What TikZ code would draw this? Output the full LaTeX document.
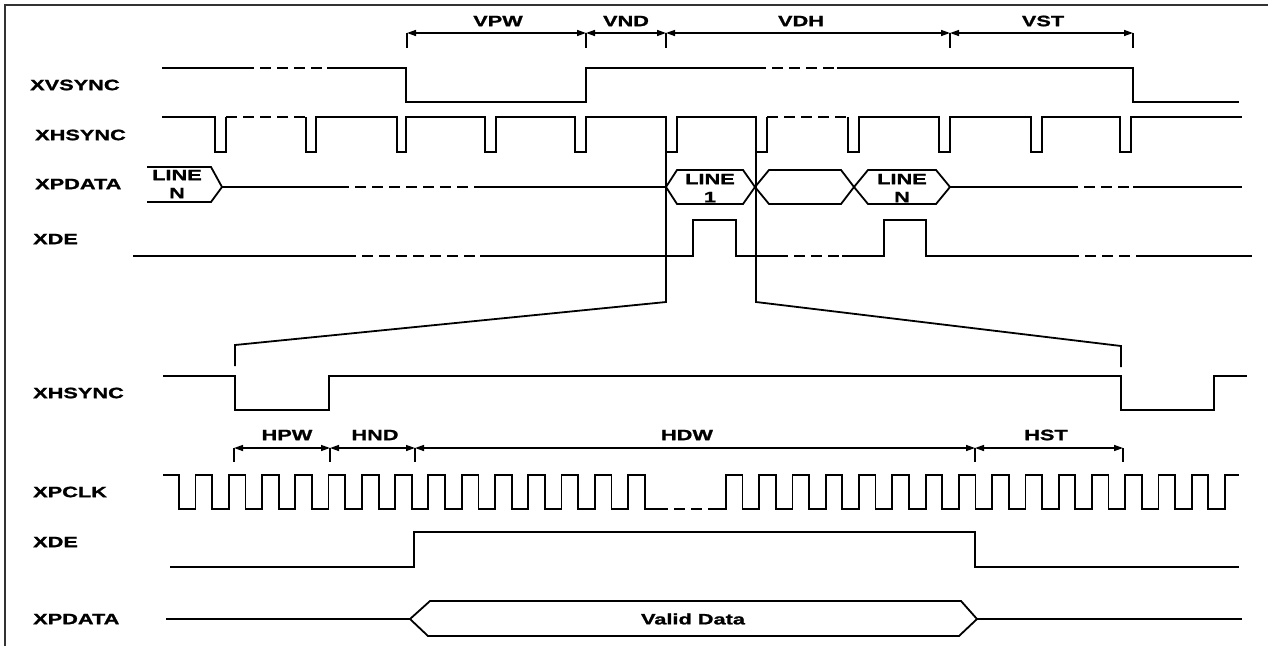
\documentclass[tikz,border=0pt]{standalone}
\usepackage{fontspec}
\setmainfont{Liberation Sans}[FakeStretch=1.45,BoldFeatures={FakeBold=1.3}]
\usetikzlibrary{arrows.meta}
\begin{document}
\begin{tikzpicture}[x=1pt,y=-1pt,
  sig/.style={line width=1.8pt,line join=miter},
  dsig/.style={line width=1.8pt,dash pattern=on 11pt off 6pt},
  dimline/.style={line width=1.4pt,{Triangle[length=9pt,width=6pt]}-{Triangle[length=9pt,width=6pt]}},
  tick/.style={line width=1.4pt},
  lbl/.style={font=\fontsize{15}{18}\selectfont\bfseries,inner sep=0pt},
  sname/.style={lbl,anchor=west}]
\useasboundingbox (0,0) rectangle (1268,646);
\draw[line width=1.6pt,black!80] (5,646) -- (5,5) -- (1268,5);

% signal names
\node[sname] (nvs) at (30,85) {XVSYNC};
\node[sname] (nhs) at (35,135) {XHSYNC};
\node[sname] (npd) at (35,184) {XPDATA};
\node[sname] (nde) at (33,239) {XDE};
\node[sname] (nhs2) at (33,393) {XHSYNC};
\node[sname] (nclk) at (33,492) {XPCLK};
\node[sname] (nde2) at (33,542) {XDE};
\node[sname] (npd2) at (33,619) {XPDATA};

% top dimension arrows
\foreach \n/\x in {a/407,b/586,c/666,d/950,e/1133}{
  \coordinate (t\n) at (\x,33);
  \coordinate (t\n b) at (\x,48);
  \draw[tick] (t\n) -- (t\n b);
}
\draw[dimline] (ta) -- (tb);
\draw[dimline] (tb) -- (tc);
\draw[dimline] (tc) -- (td);
\draw[dimline] (td) -- (te);
\node[lbl] (lvpw) at (498,21) {VPW};
\node[lbl] (lvnd) at (626,21) {VND};
\node[lbl] (lvdh) at (801,21) {VDH};
\node[lbl] (lvst) at (1043,21) {VST};

% XVSYNC
\draw[sig] (162,68) -- (243,68);
\draw[dsig] (243,68) -- (327,68);
\draw[sig] (327,68) -- (406,68) -- (406,102) -- (586,102) -- (586,68) -- (755,68);
\draw[dsig] (755,68) -- (837,68);
\draw[sig] (837,68) -- (1133,68) -- (1133,102) -- (1239,102);

% XHSYNC (top)
\draw[sig] (162,117) -- (215,117) -- (215,152) -- (226,152) -- (226,117);
\draw[dsig] (226,117) -- (306,117);
\draw[sig] (306,117) foreach \f/\r in {306/316,397/406,485/496,575/586,666/677,756/767}
  { -- (\f,117) -- (\f,152) -- (\r,152) -- (\r,117) };
\draw[dsig] (767,117) -- (848,117);
\draw[sig] (848,117) foreach \f/\r in {848/859,939/950,1031/1042,1120/1131}
  { -- (\f,117) -- (\f,152) -- (\r,152) -- (\r,117) } -- (1242,117);

% zoom lines
\draw[sig] (666,152) -- (666,302) -- (235,345) -- (235,366);
\draw[sig] (756,152) -- (756,302) -- (1121,346) -- (1121,367);

% XPDATA (top)
\draw[sig] (147,167) -- (211,167) -- (222,187) -- (211,202) -- (147,202);
\node[lbl,align=center] (dN0) at (177,184) {LINE\\N};
\draw[sig] (222,187) -- (338,187);
\draw[dsig] (338,187) -- (480,187);
\draw[sig] (480,187) -- (666,187);
\draw[sig] (666,187) -- (677,170) -- (743,170) -- (755,187) -- (743,204) -- (677,204) -- cycle;
\node[lbl,align=center] (dL1) at (710,188) {LINE\\1};
\draw[sig] (755,187) -- (769,170) -- (841,170) -- (854,187) -- (841,204) -- (769,204) -- cycle;
\draw[sig] (854,187) -- (868,170) -- (936,170) -- (950,187) -- (936,204) -- (868,204) -- cycle;
\node[lbl,align=center] (dLN) at (902,188) {LINE\\N};
\draw[sig] (950,187) -- (1067,187);
\draw[dsig] (1067,187) -- (1133,187);
\draw[sig] (1133,187) -- (1242,187);

% XDE (top)
\draw[sig] (133,256) -- (345,256);
\draw[dsig] (345,256) -- (480,256);
\draw[sig] (480,256) -- (693,256) -- (693,220) -- (736,220) -- (736,256) -- (777,256);
\draw[dsig] (777,256) -- (842,256);
\draw[sig] (842,256) -- (884,256) -- (884,220) -- (926,220) -- (926,256) -- (1068,256);
\draw[dsig] (1068,256) -- (1147,256);
\draw[sig] (1147,256) -- (1252,256);

% XHSYNC (bottom)
\draw[sig] (163,376) -- (235,376) -- (235,410) -- (329,410) -- (329,376) -- (1121,376)
  -- (1121,410) -- (1214,410) -- (1214,376) -- (1247,376);

% bottom dimension arrows
\foreach \n/\x in {a/234,b/330,c/415,d/975,e/1123}{
  \coordinate (h\n) at (\x,448);
  \coordinate (h\n b) at (\x,462);
  \draw[tick] (h\n) -- (h\n b);
}
\draw[dimline] (ha) -- (hb);
\draw[dimline] (hb) -- (hc);
\draw[dimline] (hc) -- (hd);
\draw[dimline] (hd) -- (he);
\node[lbl] (lhpw) at (287,435) {HPW};
\node[lbl] (lhnd) at (375,435) {HND};
\node[lbl] (lhdw) at (687,435) {HDW};
\node[lbl] (lhst) at (1046,435) {HST};

% XPCLK
\draw[sig] (163,475) foreach \k in {0,...,13}
  { -- ({179+33.27*\k},475) -- ({179+33.27*\k},509) -- ({195.5+33.27*\k},509) -- ({195.5+33.27*\k},475) }
  -- ({179+33.27*14},475) -- ({179+33.27*14},509) -- (657,509);
\draw[dsig] (657,509) -- (710,509);
\draw[sig] (710,509) foreach \m in {0,...,14}
  { -- ({726+33.27*\m},509) -- ({726+33.27*\m},475) -- ({742.5+33.27*\m},475) -- ({742.5+33.27*\m},509) }
  -- (1225,509) -- (1225,475) -- (1239,475);

% XDE (bottom)
\draw[sig] (170,567) -- (414,567) -- (414,532) -- (975,532) -- (975,567) -- (1239,567);

% XPDATA (bottom)
\draw[sig] (166,619) -- (410,619);
\draw[sig] (410,619) -- (430,601) -- (961,601) -- (977,619) -- (959,636) -- (428,636) -- cycle;
\draw[sig] (977,619) -- (1242,619);
\node[lbl] (lvd) at (693,619) {Valid Data};
\end{tikzpicture}
\end{document}
